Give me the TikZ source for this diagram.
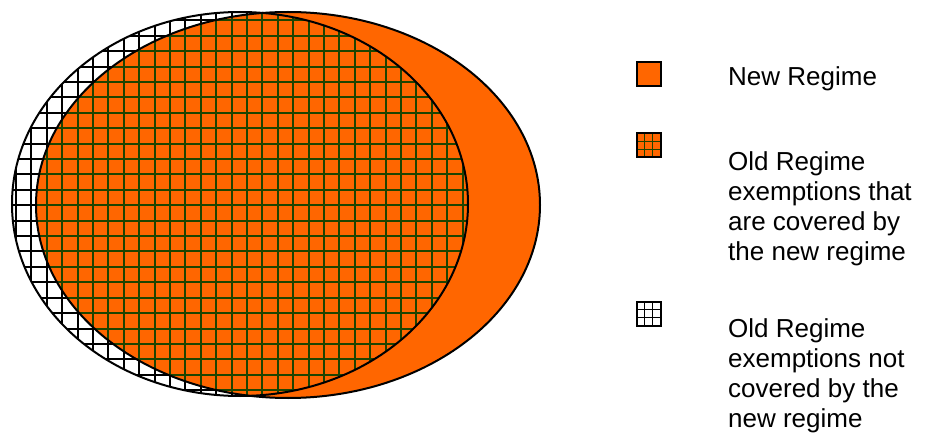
\documentclass[tikz,border=0pt]{standalone}
\usepackage{fontspec}
\setmainfont{Liberation Sans}
\usetikzlibrary{calc}
\definecolor{neworange}{HTML}{FF6600}
\definecolor{gridgreen}{HTML}{1E4400}
\tikzset{
  outline/.style={draw=black, line width=2pt},
  gridline/.style={line width=2pt},
  legbox/.style={draw=black, line width=2pt, minimum size=24pt, inner sep=0pt, outer sep=0pt},
  legtext/.style={anchor=base west, inner sep=0pt, align=left, font=\fontsize{26}{30}\selectfont}
}
\begin{document}
\begin{tikzpicture}[x=1pt,y=-1pt]
\useasboundingbox (0,0) rectangle (930,433);
% old regime ellipse (white, black grid)
\fill[white] (240,204) ellipse [x radius=228, y radius=192];
\begin{scope}
  \clip (240,204) ellipse [x radius=228, y radius=192];
  \foreach \i in {0,...,31} \draw[gridline,black] (0.6+15.4*\i,0) -- (0.6+15.4*\i,433);
  \foreach \j in {-1,...,27} \draw[gridline,black] (0,20.5+15.4*\j) -- (600,20.5+15.4*\j);
\end{scope}
% new regime ellipse
\fill[neworange] (288,205) ellipse [x radius=252, y radius=193];
% overlap grid
\begin{scope}
  \clip (240,204) ellipse [x radius=228, y radius=192];
  \clip (288,205) ellipse [x radius=252, y radius=193];
  \foreach \i in {0,...,31} \draw[gridline,gridgreen] (0.6+15.4*\i,0) -- (0.6+15.4*\i,433);
  \foreach \j in {-1,...,27} \draw[gridline,gridgreen] (0,20.5+15.4*\j) -- (600,20.5+15.4*\j);
\end{scope}
% outlines
\draw[outline] (288,205) ellipse [x radius=252, y radius=193];
\draw[outline] (240,204) ellipse [x radius=228, y radius=192];
% legend
\node[legbox, fill=neworange] (k1) at (648.5,74.5) {};
\node[legbox, fill=neworange] (k2) at (648.5,145.5) {};
\node[legbox, fill=white] (k3) at (648.5,313.5) {};
\foreach \k/\c in {k2/gridgreen,k3/black} {
  \foreach \f in {1,2} {
    \draw[line width=1.6pt,\c] ($(\k.north west)!\f/3!(\k.north east)$) -- ($(\k.south west)!\f/3!(\k.south east)$);
    \draw[line width=1.6pt,\c] ($(\k.north west)!\f/3!(\k.south west)$) -- ($(\k.north east)!\f/3!(\k.south east)$);
  }
  \node[legbox] at (\k) {};
}
\node[legtext] (t1) at (728,86) {New Regime};
\node[legtext] (t2) at (728,260) {Old Regime\\exemptions that\\are covered by\\the new regime};
\node[legtext] (t3) at (728,427) {Old Regime\\exemptions not\\covered by the\\new regime};
\end{tikzpicture}
\end{document}
